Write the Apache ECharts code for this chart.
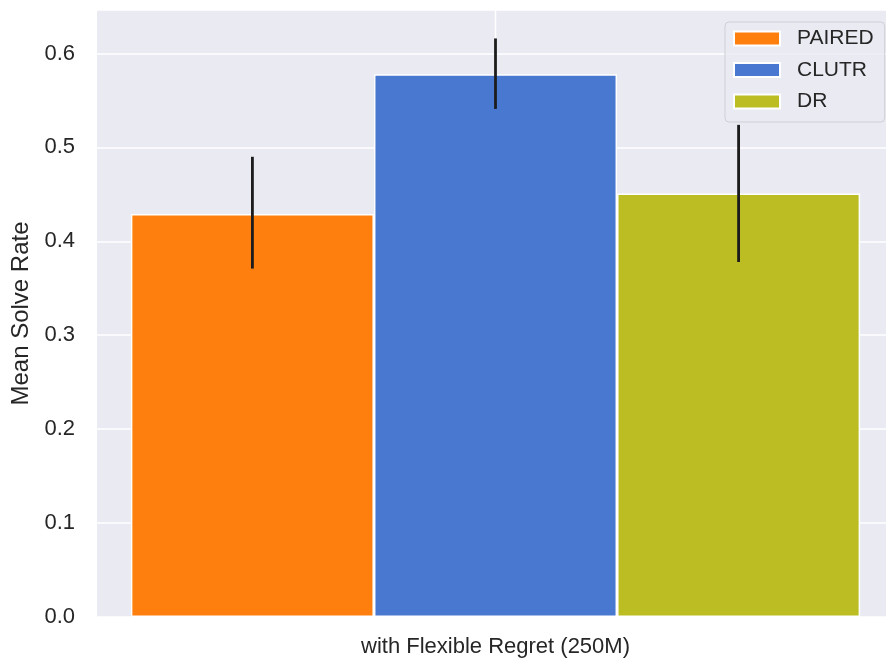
<!DOCTYPE html>
<html>
<head>
<meta charset="utf-8">
<script src="https://cdn.jsdelivr.net/npm/echarts@6/dist/echarts.min.js"></script>
<style>
  html, body { margin: 0; padding: 0; background: #ffffff; }
  #chart { width: 886px; height: 658px; }
</style>
</head>
<body>
<div id="chart"></div>
<script>
// Data
const categories = ['with Flexible Regret (250M)'];
const methods = ['PAIRED', 'CLUTR', 'DR'];
const meanSolveRate = [0.429, 0.578, 0.451];
const errLow = [0.371, 0.541, 0.378];
const errHigh = [0.490, 0.616, 0.524];
const yTicks = [0, 0.1, 0.2, 0.3, 0.4, 0.5, 0.6];

const colors = ['#ff7f0e', '#4878cf', '#bcbd22'];
const textColor = '#262626';
const font = 'Liberation Sans, Arial, sans-serif';
const barFrac = 0.305; // share of the category band taken by each bar
const yMax = 0.6463;

const chart = echarts.init(document.getElementById('chart'), null, { renderer: 'canvas' });

const barSeries = methods.map((name, i) => ({
  name: name,
  type: 'bar',
  data: [meanSolveRate[i]],
  barWidth: (barFrac * 100) + '%',
  barGap: '0%',
  z: 3,
  itemStyle: { color: colors[i], borderColor: '#ffffff', borderWidth: 1.5 },
  emphasis: { disabled: true }
}));

// Vertical grid line at the category tick, drawn under the bars
const catGridLine = {
  type: 'custom',
  z: 1,
  silent: true,
  data: [[0]],
  renderItem: function (params, api) {
    const p0 = api.coord([api.value(0), 0]);
    const p1 = api.coord([api.value(0), yMax]);
    return {
      type: 'line',
      shape: { x1: p0[0], y1: p0[1], x2: p1[0], y2: p1[1] },
      style: { stroke: '#ffffff', lineWidth: 1.5 }
    };
  }
};

// Error bars for each method
const errData = methods.map((m, i) => [0, errLow[i], errHigh[i], i]);
const errorSeries = {
  type: 'custom',
  z: 5,
  silent: true,
  data: errData,
  renderItem: function (params, api) {
    const idx = api.value(3);
    const band = api.size([1, 0])[0];
    const off = (idx - (methods.length - 1) / 2) * band * barFrac;
    const lo = api.coord([api.value(0), api.value(1)]);
    const hi = api.coord([api.value(0), api.value(2)]);
    return {
      type: 'line',
      shape: { x1: lo[0] + off, y1: lo[1], x2: hi[0] + off, y2: hi[1] },
      style: { stroke: '#1c1c1c', lineWidth: 2.8 }
    };
  }
};

const option = {
  animation: false,
  textStyle: { fontFamily: font },
  grid: {
    left: 97,
    top: 10,
    right: -8,
    bottom: 41,
    outerBoundsMode: 'none',
    containLabel: false,
    show: true,
    backgroundColor: '#eaeaf2',
    borderWidth: 0
  },
  legend: {
    data: methods,
    orient: 'vertical',
    left: 725,
    top: 22,
    icon: 'rect',
    itemWidth: 46,
    itemHeight: 14,
    itemGap: 10.5,
    padding: [6, 11, 10, 8],
    backgroundColor: 'rgba(234,234,242,0.8)',
    borderColor: '#cfcfd6',
    borderWidth: 1,
    borderRadius: 4,
    textStyle: {
      fontFamily: font,
      fontSize: 21,
      lineHeight: 21,
      color: textColor,
      padding: [0, 0, 0, 12]
    },
    selectedMode: false
  },
  xAxis: {
    type: 'category',
    data: categories,
    axisLine: { show: false },
    axisTick: { show: false },
    splitLine: { show: false },
    axisLabel: { fontSize: 22, color: textColor, margin: 19, fontFamily: font }
  },
  yAxis: {
    type: 'value',
    min: yTicks[0],
    max: yMax,
    interval: 0.1,
    name: 'Mean Solve Rate',
    nameLocation: 'middle',
    nameRotate: 90,
    nameGap: 63,
    nameTextStyle: { fontSize: 24, color: textColor, fontFamily: font },
    axisLine: { show: false },
    axisTick: { show: false },
    splitLine: { show: true, lineStyle: { color: '#ffffff', width: 1.5 } },
    axisLabel: {
      fontSize: 22,
      color: textColor,
      margin: 22,
      fontFamily: font,
      showMaxLabel: false,
      formatter: function (v) { return v.toFixed(1); }
    }
  },
  series: [catGridLine].concat(barSeries, [errorSeries])
};

chart.setOption(option);
</script>
</body>
</html>
